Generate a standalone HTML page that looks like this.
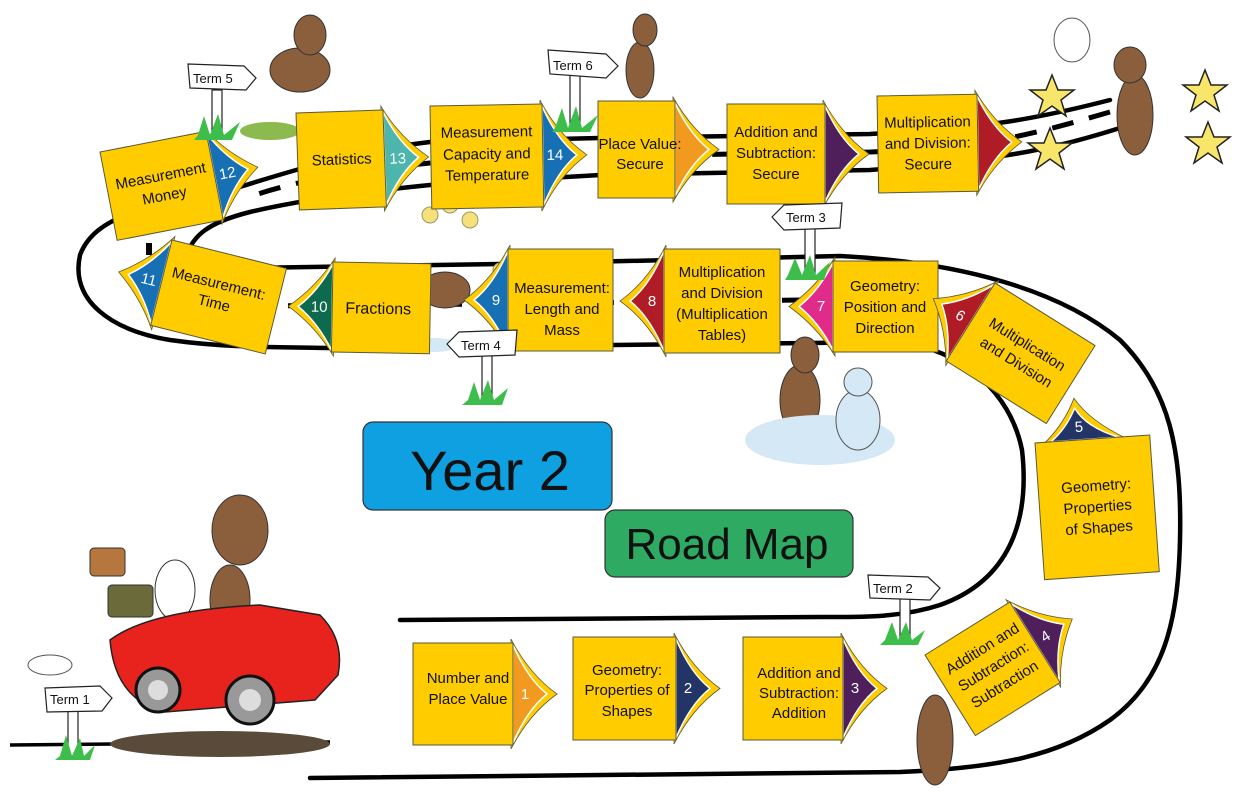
<!DOCTYPE html>
<html><head><meta charset="utf-8"><style>
html,body{margin:0;padding:0;background:#fff;}
svg{display:block;font-family:"Liberation Sans",sans-serif;}
.bx{fill:#FFCC00;stroke:#5a5a3a;stroke-width:1;}
.ot{fill:#FFCC00;stroke:#5a5a3a;stroke-width:0.8;}
.t{font-size:15px;fill:#111;text-anchor:middle;}
.n{font-size:15px;fill:#fff;text-anchor:middle;}
.rd{fill:none;stroke:#000;stroke-width:4.5;stroke-linecap:round;}
.sg{fill:#fff;stroke:#222;stroke-width:1.2;}
.sgt{font-size:13px;fill:#111;}
</style></head><body>
<svg width="1236" height="811" viewBox="0 0 1236 811" xmlns="http://www.w3.org/2000/svg">
<!-- road -->
<path class="rd" d="M1110,100 C1040,118 990,128 870,134 L600,138 L430,142 C360,150 300,168 230,190 C150,205 95,215 80,255 C70,300 110,330 170,340 C220,347 260,347 330,348 L900,342 C960,350 1010,390 1022,450 C1030,520 1010,580 940,605 C900,618 860,617 820,617 L400,620"/>
<path class="rd" d="M1120,128 C1050,150 1000,160 870,170 L600,175 L430,185 C360,192 300,200 250,212 C210,222 190,235 185,262 M245,268 L500,264 L840,256 C960,262 1060,290 1120,340 C1170,390 1182,450 1180,540 C1178,620 1165,680 1110,720 C1060,755 1000,768 900,772 L310,778"/>
<path d="M10,745 L330,742" stroke="#000" stroke-width="3.5" fill="none"/>
<path d="M1110,112 C1040,132 990,148 870,152 L600,156 L430,163 C360,170 300,180 255,195" stroke="#000" stroke-width="5" fill="none" stroke-dasharray="22 16"/>
<path d="M250,306 L500,304 L800,300" stroke="#000" stroke-width="5" fill="none" stroke-dasharray="22 16"/>
<rect x="146" y="243" width="6" height="12" fill="#000"/>

<!-- stars -->
<g fill="#F8E66A" stroke="#222" stroke-width="1.5">
<polygon points="1052,75 1058,90 1074,90 1061,100 1066,116 1052,106 1038,116 1043,100 1030,90 1046,90"/>
<polygon points="1050,128 1056,143 1072,143 1059,153 1064,169 1050,159 1036,169 1041,153 1028,143 1044,143"/>
<polygon points="1205,70 1211,85 1227,85 1214,95 1219,111 1205,101 1191,111 1196,95 1183,85 1199,85"/>
<polygon points="1208,122 1214,137 1230,137 1217,147 1222,163 1208,153 1194,163 1199,147 1186,137 1202,137"/>
</g>
<!-- characters (simplified) -->
<g fill="#8B5E3C" stroke="#333" stroke-width="1">
<ellipse cx="300" cy="70" rx="30" ry="22"/><ellipse cx="310" cy="35" rx="16" ry="20"/>
<ellipse cx="640" cy="70" rx="14" ry="28"/><ellipse cx="645" cy="30" rx="12" ry="16"/>
<ellipse cx="1135" cy="115" rx="18" ry="40"/><ellipse cx="1130" cy="65" rx="16" ry="18"/>
<ellipse cx="800" cy="400" rx="20" ry="35"/><ellipse cx="805" cy="355" rx="14" ry="18"/>
<ellipse cx="445" cy="290" rx="25" ry="18"/>
<ellipse cx="935" cy="740" rx="18" ry="45"/>
</g>
<ellipse cx="270" cy="131" rx="30" ry="9" fill="#8DBA4E"/>
<ellipse cx="820" cy="440" rx="75" ry="25" fill="#D4E8F5"/>
<ellipse cx="858" cy="420" rx="22" ry="30" fill="#D4E8F5" stroke="#555"/>
<circle cx="858" cy="382" r="14" fill="#D4E8F5" stroke="#555"/>
<ellipse cx="433" cy="345" rx="25" ry="7" fill="#D4E8F5"/>
<ellipse cx="1072" cy="40" rx="18" ry="22" fill="#fff" stroke="#555"/>
<ellipse cx="640" cy="125" rx="30" ry="5" fill="#F4B8D8"/>
<g fill="#F5E07A" stroke="#996" stroke-width="1">
<circle cx="430" cy="215" r="8"/><circle cx="450" cy="205" r="8"/><circle cx="470" cy="220" r="8"/><circle cx="500" cy="270" r="7"/>
</g>

<!-- Row 1 boxes (right tabs) -->
<g transform="translate(877,96) rotate(-1)">
<path class="ot" d="M98,-4 Q116,28.5 144,48.5 Q116,68.5 98,101 Z"/><path d="M100,2 Q114,32.5 134,48.5 Q114,64.5 100,95 Z" fill="#B01C26" stroke="#fff" stroke-width="1.5"/>
<rect class="bx" width="100" height="97"/>
<text class="t" x="50" y="32">Multiplication</text><text class="t" x="50" y="53">and Division:</text><text class="t" x="50" y="74">Secure</text></g>

<g transform="translate(727,104)">
<path class="ot" d="M96,-4 Q114,30 142,50 Q114,70 96,104 Z"/><path d="M98,2 Q112,34 132,50 Q112,66 98,98 Z" fill="#4E1F5B" stroke="#fff" stroke-width="1.5"/>
<rect class="bx" width="98" height="100"/>
<text class="t" x="49" y="33">Addition and</text><text class="t" x="49" y="54">Subtraction:</text><text class="t" x="49" y="75">Secure</text></g>

<g transform="translate(598,101)">
<path class="ot" d="M75,-4 Q93,28.5 121,48.5 Q93,68.5 75,101 Z"/><path d="M77,2 Q91,32.5 111,48.5 Q91,64.5 77,95 Z" fill="#F29A1F" stroke="#fff" stroke-width="1.5"/>
<rect class="bx" width="77" height="97"/>
<text class="t" x="42" y="48">Place Value:</text><text class="t" x="42" y="68">Secure</text></g>

<g transform="translate(430,106) rotate(-1)">
<path class="ot" d="M110,-4 Q128,31.5 156,51.5 Q128,71.5 110,107 Z"/><path d="M112,2 Q126,35.5 146,51.5 Q126,67.5 112,101 Z" fill="#1670B3" stroke="#fff" stroke-width="1.5"/>
<rect class="bx" width="112" height="103"/>
<text class="n" x="124" y="56">14</text>
<text class="t" x="56" y="32">Measurement</text><text class="t" x="56" y="54">Capacity and</text><text class="t" x="56" y="75">Temperature</text></g>

<g transform="translate(296,113) rotate(-2)">
<path class="ot" d="M85,-4 Q103,28.5 131,48.5 Q103,68.5 85,101 Z"/><path d="M87,2 Q101,32.5 121,48.5 Q101,64.5 87,95 Z" fill="#4DB6AC" stroke="#fff" stroke-width="1.5"/>
<rect class="bx" width="87" height="97"/>
<text class="n" x="100" y="54">13</text>
<text class="t" x="44" y="53">Statistics</text></g>

<g transform="translate(100,152) rotate(-11)">
<path class="ot" d="M106,-4 Q124,25 152,45 Q124,65 106,94 Z"/><path d="M108,2 Q122,29 142,45 Q122,61 108,88 Z" fill="#1670B3" stroke="#fff" stroke-width="1.5"/>
<rect class="bx" width="108" height="90"/>
<text class="n" x="121" y="50">12</text>
<text class="t" x="55" y="40">Measurement</text><text class="t" x="55" y="60">Money</text></g>

<!-- Row 2 boxes (left tabs) -->
<g transform="translate(172,240) rotate(14)">
<path class="ot" d="M2,-4 Q-16,24 -44,44 Q-16,64 2,92 Z"/><path d="M0,2 Q-14,28 -34,44 Q-14,60 0,86 Z" fill="#1670B3" stroke="#fff" stroke-width="1.5"/>
<rect class="bx" width="118" height="88"/>
<text class="n" x="-13" y="49">11</text>
<text class="t" x="56" y="36">Measurement:</text><text class="t" x="56" y="56">Time</text></g>

<g transform="translate(333,262) rotate(1)">
<path class="ot" d="M2,-4 Q-16,25 -44,45 Q-16,65 2,94 Z"/><path d="M0,2 Q-14,29 -34,45 Q-14,61 0,88 Z" fill="#0D6A4D" stroke="#fff" stroke-width="1.5"/>
<rect class="bx" width="98" height="90"/>
<text class="n" x="-13" y="50">10</text>
<text class="t" x="46" y="51" style="font-size:16px">Fractions</text></g>

<g transform="translate(508,249)">
<path class="ot" d="M2,-4 Q-16,31 -44,51 Q-16,71 2,106 Z"/><path d="M0,2 Q-14,35 -34,51 Q-14,67 0,100 Z" fill="#1670B3" stroke="#fff" stroke-width="1.5"/>
<rect class="bx" width="105" height="102"/>
<text class="n" x="-12" y="56">9</text>
<text class="t" x="54" y="44">Measurement:</text><text class="t" x="54" y="65">Length and</text><text class="t" x="54" y="86">Mass</text></g>

<g transform="translate(664,249)">
<path class="ot" d="M2,-4 Q-16,32 -44,52 Q-16,72 2,108 Z"/><path d="M0,2 Q-14,36 -34,52 Q-14,68 0,102 Z" fill="#B01C26" stroke="#fff" stroke-width="1.5"/>
<rect class="bx" width="116" height="104"/>
<text class="n" x="-12" y="57">8</text>
<text class="t" x="58" y="28">Multiplication</text><text class="t" x="58" y="49">and Division</text><text class="t" x="58" y="70">(Multiplication</text><text class="t" x="58" y="91">Tables)</text></g>

<g transform="translate(833,261)">
<path class="ot" d="M2,-4 Q-16,25.5 -44,45.5 Q-16,65.5 2,95 Z"/><path d="M0,2 Q-14,29.5 -34,45.5 Q-14,61.5 0,89 Z" fill="#E02B8A" stroke="#fff" stroke-width="1.5"/>
<rect class="bx" width="105" height="91"/>
<text class="n" x="-12" y="50">7</text>
<text class="t" x="52" y="30">Geometry:</text><text class="t" x="52" y="51">Position and</text><text class="t" x="52" y="72">Direction</text></g>

<g transform="translate(995,283) rotate(32)">
<path class="ot" d="M2,-4 Q-16,26 -44,46 Q-16,66 2,96 Z"/><path d="M0,2 Q-14,30 -34,46 Q-14,62 0,90 Z" fill="#B01C26" stroke="#fff" stroke-width="1.5"/>
<rect class="bx" width="118" height="92"/>
<text class="n" x="-12" y="51">6</text>
<text class="t" x="60" y="40">Multiplication</text><text class="t" x="60" y="61">and Division</text></g>

<!-- 5 top tab -->
<g transform="translate(1035,443) rotate(-4)">
<path class="ot" d="M8,2 Q30,-16 42,-42 Q56,-18 92,2 Z"/><path d="M16,0 Q32,-12 42,-32 Q52,-12 84,0 Z" fill="#233466" stroke="#fff" stroke-width="1.5"/>
<rect class="bx" width="115" height="137"/>
<text class="n" x="45" y="-8">5</text>
<text class="t" x="58" y="52">Geometry:</text><text class="t" x="58" y="73">Properties</text><text class="t" x="58" y="94">of Shapes</text></g>

<!-- Row 3 -->
<g transform="translate(925,655) rotate(-32)">
<path class="ot" d="M98,-4 Q116,27.5 144,47.5 Q116,67.5 98,99 Z"/><path d="M100,2 Q114,31.5 134,47.5 Q114,63.5 100,93 Z" fill="#4E1F5B" stroke="#fff" stroke-width="1.5"/>
<rect class="bx" width="100" height="95"/>
<text class="n" x="112" y="53">4</text>
<text class="t" x="52" y="30">Addition and</text><text class="t" x="52" y="51">Subtraction:</text><text class="t" x="52" y="72">Subtraction</text></g>

<g transform="translate(743,637)">
<path class="ot" d="M98,-4 Q116,31.5 144,51.5 Q116,71.5 98,107 Z"/><path d="M100,2 Q114,35.5 134,51.5 Q114,67.5 100,101 Z" fill="#4E1F5B" stroke="#fff" stroke-width="1.5"/>
<rect class="bx" width="100" height="103"/>
<text class="n" x="112" y="56">3</text>
<text class="t" x="56" y="41">Addition and</text><text class="t" x="56" y="61">Subtraction:</text><text class="t" x="56" y="81">Addition</text></g>

<g transform="translate(573,637)">
<path class="ot" d="M101,-4 Q119,31.5 147,51.5 Q119,71.5 101,107 Z"/><path d="M103,2 Q117,35.5 137,51.5 Q117,67.5 103,101 Z" fill="#233466" stroke="#fff" stroke-width="1.5"/>
<rect class="bx" width="103" height="103"/>
<text class="n" x="115" y="56">2</text>
<text class="t" x="54" y="38">Geometry:</text><text class="t" x="54" y="58">Properties of</text><text class="t" x="54" y="79">Shapes</text></g>

<g transform="translate(413,643)">
<path class="ot" d="M98,-4 Q116,31 144,51 Q116,71 98,106 Z"/><path d="M100,2 Q114,35 134,51 Q114,67 100,100 Z" fill="#F29A1F" stroke="#fff" stroke-width="1.5"/>
<rect class="bx" width="100" height="102"/>
<text class="n" x="112" y="56">1</text>
<text class="t" x="55" y="40">Number and</text><text class="t" x="55" y="61">Place Value</text></g>

<!-- Title boxes -->
<rect x="363" y="422" width="249" height="88" rx="10" fill="#0EA0E0" stroke="#333" stroke-width="1.2"/>
<text x="490" y="490" text-anchor="middle" style="font-size:56px;fill:#111">Year 2</text>
<rect x="605" y="510" width="248" height="67" rx="10" fill="#2EAA62" stroke="#333" stroke-width="1.2"/>
<text x="727" y="559" text-anchor="middle" style="font-size:44px;fill:#111">Road Map</text>

<!-- Car -->
<ellipse cx="220" cy="744" rx="110" ry="13" fill="#5a4a3a"/>
<ellipse cx="240" cy="530" rx="28" ry="35" fill="#8B5E3C" stroke="#333"/>
<ellipse cx="230" cy="600" rx="20" ry="35" fill="#8B5E3C" stroke="#333"/>
<ellipse cx="175" cy="590" rx="20" ry="30" fill="#fff" stroke="#333"/>
<rect x="90" y="548" width="35" height="28" rx="4" fill="#B5773D" stroke="#333"/>
<rect x="108" y="585" width="45" height="32" rx="4" fill="#6a6a3a" stroke="#333"/>
<path d="M110,640 Q150,610 260,605 L320,615 Q345,640 338,675 L315,700 L165,712 Q115,700 110,640 Z" fill="#E8231E" stroke="#222" stroke-width="1.5"/>
<circle cx="158" cy="690" r="22" fill="#999" stroke="#111" stroke-width="3"/><circle cx="158" cy="690" r="10" fill="#ddd"/>
<circle cx="250" cy="700" r="24" fill="#999" stroke="#111" stroke-width="3"/><circle cx="250" cy="700" r="11" fill="#ddd"/>
<ellipse cx="50" cy="665" rx="22" ry="10" fill="#fff" stroke="#555"/>

<!-- Signs -->
<g>
<rect x="68" y="708" width="10" height="48" class="sg"/><path d="M60,756 L66,735 L72,756 L80,738 L84,756 L95,745 L90,760 L55,760 Z" fill="#3DBE4A"/>
<path class="sg" d="M45,688 L100,686 L112,698 L102,711 L47,712 Z"/><text class="sgt" x="50" y="704">Term 1</text>
<rect x="900" y="598" width="10" height="42" class="sg"/><path d="M885,640 L892,622 L898,640 L906,622 L912,640 L925,630 L918,645 L880,645 Z" fill="#3DBE4A"/>
<path class="sg" d="M868,575 L928,577 L940,588 L930,600 L870,598 Z"/><text class="sgt" x="873" y="593">Term 2</text>
<rect x="805" y="228" width="10" height="45" class="sg"/><path d="M788,275 L795,258 L802,275 L810,255 L816,275 L830,262 L824,280 L785,280 Z" fill="#3DBE4A"/>
<path class="sg" d="M772,217 L784,205 L842,203 L840,228 L784,230 Z"/><text class="sgt" x="786" y="222">Term 3</text>
<rect x="482" y="355" width="10" height="45" class="sg"/><path d="M468,400 L474,382 L480,400 L488,380 L494,400 L508,388 L502,405 L462,405 Z" fill="#3DBE4A"/>
<path class="sg" d="M447,344 L459,332 L517,330 L515,355 L459,357 Z"/><text class="sgt" x="461" y="350">Term 4</text>
<rect x="212" y="90" width="10" height="42" class="sg"/><path d="M198,135 L204,116 L210,135 L218,114 L224,135 L240,122 L232,140 L194,140 Z" fill="#3DBE4A"/>
<path class="sg" d="M188,64 L244,66 L256,78 L246,90 L190,88 Z"/><text class="sgt" x="193" y="83">Term 5</text>
<rect x="570" y="75" width="10" height="48" class="sg"/><path d="M555,128 L562,108 L568,128 L576,106 L582,128 L598,115 L590,132 L552,132 Z" fill="#3DBE4A"/>
<path class="sg" d="M548,50 L606,54 L618,66 L606,78 L550,74 Z"/><text class="sgt" x="553" y="70">Term 6</text>
</g>
</svg>
</body></html>
